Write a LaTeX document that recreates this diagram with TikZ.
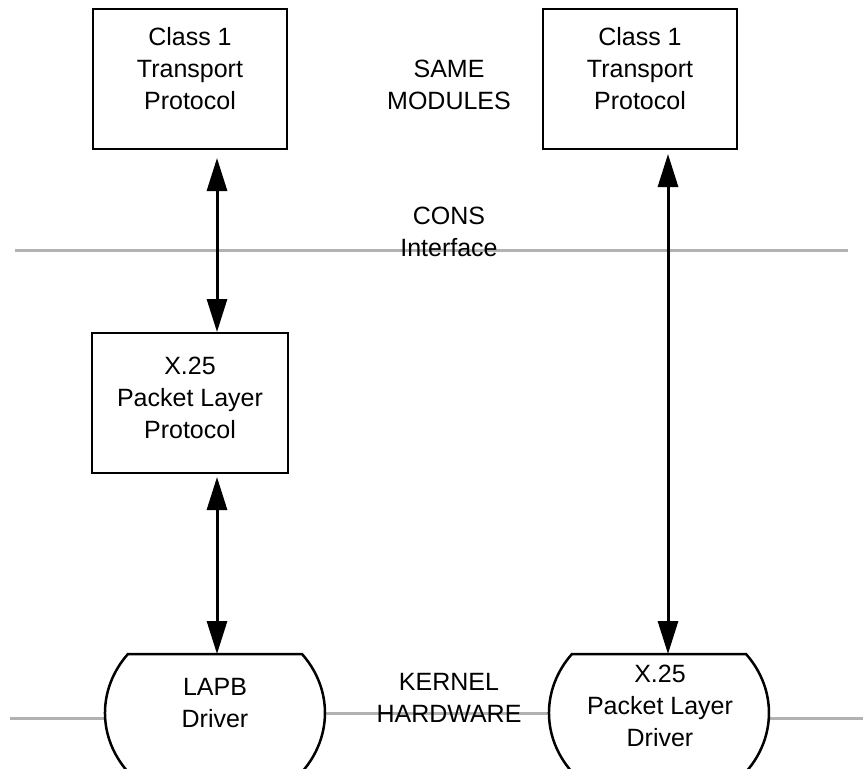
\documentclass[tikz,border=0pt]{standalone}
\usepackage{fontspec}
\setmainfont{Liberation Sans}
\usetikzlibrary{arrows.meta}

\tikzset{
  box/.style={draw=black, line width=2pt, minimum width=194pt, minimum height=140pt, inner sep=0pt},
  lbl/.style={align=center, inner sep=0pt, font=\fontsize{25}{32}\selectfont},
  layerline/.style={draw=black!30, line width=3pt},
  biarrow/.style={line width=3pt, {Triangle[length=33pt,width=20pt]}-{Triangle[length=33pt,width=20pt]}},
  driver/.style={draw=black, line width=2.5pt, fill=white},
}

\begin{document}
\begin{tikzpicture}[x=1pt, y=-1pt]
  \useasboundingbox (0,0) rectangle (863,769);
  \clip (0,0) rectangle (863,769);

  % layer boundaries
  \draw[layerline] (15,250) -- (848,250);
  \draw[layerline] (10,718) -- (106,718);
  \draw[layerline] (324,713) -- (550,713);
  \draw[layerline] (768,718) -- (863,718);

  % protocol modules
  \node[box] (tpL) at (190,79) {};
  \node[lbl] (tpLtxt) at (190,69) {Class 1\\Transport\\Protocol};
  \node[box] (tpR) at (640,79) {};
  \node[lbl] (tpRtxt) at (640,69) {Class 1\\Transport\\Protocol};
  \node[box, minimum width=196pt] (plp) at (190,403) {};
  \node[lbl] (plptxt) at (190,398) {X.25\\Packet Layer\\Protocol};

  % drivers
  \draw[driver] (128,654) -- (302,654)
    arc[start angle=-37.7, end angle=217.7, x radius=110, y radius=96.4] -- cycle;
  \coordinate (lapbtop) at (217,654);
  \node[lbl] (lapb) at (215,703) {LAPB\\Driver};
  \draw[driver] (572,654) -- (746,654)
    arc[start angle=-37.7, end angle=217.7, x radius=110, y radius=96.4] -- cycle;
  \coordinate (pldtop) at (668,654);
  \node[lbl] (pld) at (660,706) {X.25\\Packet Layer\\Driver};

  % interface labels
  \node[lbl] (same) at (449,85) {SAME\\MODULES};
  \node[lbl] (cons) at (449,232) {CONS\\Interface};
  \node[lbl] (kern) at (449,698) {KERNEL\\HARDWARE};

  % connectors
  \draw[biarrow, shorten <=8pt] (tpL.south -| lapbtop) -- (plp.north -| lapbtop);
  \draw[biarrow, shorten <=3pt] (plp.south -| lapbtop) -- (lapbtop);
  \draw[biarrow, shorten <=4pt] (tpR.south -| pldtop) -- (pldtop);
\end{tikzpicture}
\end{document}
